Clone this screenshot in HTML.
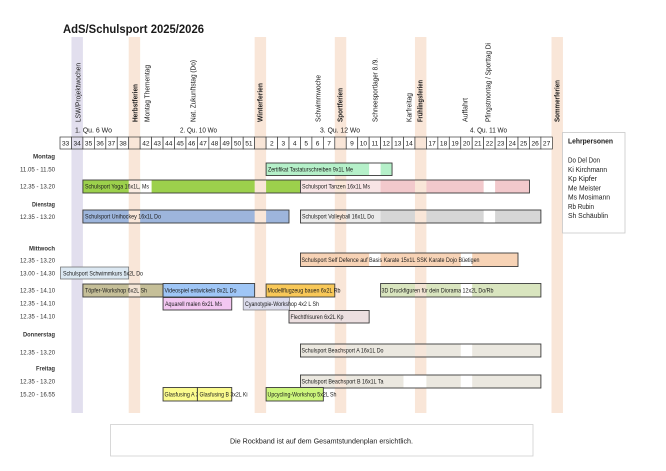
<!DOCTYPE html>
<html><head><meta charset="utf-8"><style>
html,body{margin:0;padding:0;background:#fff;}
svg{display:block;}
text{font-family:"Liberation Sans",Arial,sans-serif;fill:#1a1a1a;}
.v{font-size:7px;}
.b{font-weight:bold;}
.w{font-size:6.6px;text-anchor:middle;}
.t{font-size:6px;}
.l{font-size:6.5px;text-anchor:end;fill:#333;}
.bar{stroke:#3a3a3a;stroke-width:0.9;}
.c{stroke:#3a3a3a;stroke-width:0.7;}
</style></head><body>
<svg width="666" height="471" viewBox="0 0 666 471" xmlns="http://www.w3.org/2000/svg">
<rect width="666" height="471" fill="#fff"/>

<!-- vertical bands -->
<rect x="71.45" y="37" width="11.45" height="376" fill="#e2dfee"/>
<rect x="128.7" y="37" width="11.45" height="376" fill="#f9e6d8"/>
<rect x="254.65" y="37" width="11.45" height="376" fill="#f9e6d8"/>
<rect x="334.8" y="37" width="11.45" height="376" fill="#f9e6d8"/>
<rect x="414.95" y="37" width="11.45" height="376" fill="#f9e6d8"/>
<rect x="551.5" y="37" width="11.45" height="376" fill="#f9e6d8"/>

<!-- title -->
<text x="63" y="33" font-size="12" font-weight="bold" textLength="141" lengthAdjust="spacingAndGlyphs">AdS/Schulsport 2025/2026</text>

<!-- vertical labels -->
<text class="v" transform="translate(80.5,122) rotate(-90)" textLength="59" lengthAdjust="spacingAndGlyphs">LSW/Projektwochen</text>
<text class="v b" transform="translate(137.5,122) rotate(-90)" textLength="38" lengthAdjust="spacingAndGlyphs">Herbstferien</text>
<text class="v" transform="translate(149.5,122) rotate(-90)" textLength="57" lengthAdjust="spacingAndGlyphs">Montag Thementag</text>
<text class="v" transform="translate(195.5,122) rotate(-90)" textLength="62" lengthAdjust="spacingAndGlyphs">Nat. Zukunftstag (Do)</text>
<text class="v b" transform="translate(262.5,122) rotate(-90)" textLength="39" lengthAdjust="spacingAndGlyphs">Winterferien</text>
<text class="v" transform="translate(320.5,122) rotate(-90)" textLength="47" lengthAdjust="spacingAndGlyphs">Schwimmwoche</text>
<text class="v b" transform="translate(342.5,122) rotate(-90)" textLength="34" lengthAdjust="spacingAndGlyphs">Sportferien</text>
<text class="v" transform="translate(377.5,122) rotate(-90)" textLength="64" lengthAdjust="spacingAndGlyphs">Schneesportlager 8./9.</text>
<text class="v" transform="translate(411.5,122) rotate(-90)" textLength="29" lengthAdjust="spacingAndGlyphs">Karfreitag</text>
<text class="v b" transform="translate(422.5,122) rotate(-90)" textLength="42" lengthAdjust="spacingAndGlyphs">Frühlingsferien</text>
<text class="v" transform="translate(467.5,122) rotate(-90)" textLength="24" lengthAdjust="spacingAndGlyphs">Auffahrt</text>
<text class="v" transform="translate(490.5,122) rotate(-90)" textLength="79" lengthAdjust="spacingAndGlyphs">Pfingstmontag / Sporttag Di</text>
<text class="v b" transform="translate(559.5,122) rotate(-90)" textLength="42" lengthAdjust="spacingAndGlyphs">Sommerferien</text>

<!-- quarter labels -->
<text class="v" x="75" y="132.5" textLength="37" lengthAdjust="spacingAndGlyphs">1. Qu. 6 Wo</text>
<text class="v" x="180" y="132.5" textLength="37" lengthAdjust="spacingAndGlyphs">2. Qu. 10 Wo</text>
<text class="v" x="320" y="132.5" textLength="40" lengthAdjust="spacingAndGlyphs">3. Qu. 12 Wo</text>
<text class="v" x="470" y="132.5" textLength="37" lengthAdjust="spacingAndGlyphs">4. Qu. 11 Wo</text>

<!-- week row -->
<g>
<rect class="c" x="60" y="137" width="11.45" height="12" fill="#fff"/><text class="w" x="65.7" y="145.5">33</text>
<rect class="c" x="71.45" y="137" width="11.45" height="12" fill="#e2dfee"/><text class="w" x="77.2" y="145.5">34</text>
<rect class="c" x="82.9" y="137" width="11.45" height="12" fill="#fff"/><text class="w" x="88.6" y="145.5">35</text>
<rect class="c" x="94.35" y="137" width="11.45" height="12" fill="#fff"/><text class="w" x="100.1" y="145.5">36</text>
<rect class="c" x="105.8" y="137" width="11.45" height="12" fill="#fff"/><text class="w" x="111.5" y="145.5">37</text>
<rect class="c" x="117.25" y="137" width="11.45" height="12" fill="#fff"/><text class="w" x="123" y="145.5">38</text>
<rect class="c" x="128.7" y="137" width="11.45" height="12" fill="#f9e6d8"/>
<rect class="c" x="140.15" y="137" width="11.45" height="12" fill="#fff"/><text class="w" x="145.9" y="145.5">42</text>
<rect class="c" x="151.6" y="137" width="11.45" height="12" fill="#fff"/><text class="w" x="157.3" y="145.5">43</text>
<rect class="c" x="163.05" y="137" width="11.45" height="12" fill="#fff"/><text class="w" x="168.8" y="145.5">44</text>
<rect class="c" x="174.5" y="137" width="11.45" height="12" fill="#fff"/><text class="w" x="180.2" y="145.5">45</text>
<rect class="c" x="185.95" y="137" width="11.45" height="12" fill="#fff"/><text class="w" x="191.7" y="145.5">46</text>
<rect class="c" x="197.4" y="137" width="11.45" height="12" fill="#fff"/><text class="w" x="203.1" y="145.5">47</text>
<rect class="c" x="208.85" y="137" width="11.45" height="12" fill="#fff"/><text class="w" x="214.6" y="145.5">48</text>
<rect class="c" x="220.3" y="137" width="11.45" height="12" fill="#fff"/><text class="w" x="226" y="145.5">49</text>
<rect class="c" x="231.75" y="137" width="11.45" height="12" fill="#fff"/><text class="w" x="237.5" y="145.5">50</text>
<rect class="c" x="243.2" y="137" width="11.45" height="12" fill="#fff"/><text class="w" x="248.9" y="145.5">51</text>
<rect class="c" x="254.65" y="137" width="11.45" height="12" fill="#f9e6d8"/>
<rect class="c" x="266.1" y="137" width="11.45" height="12" fill="#fff"/><text class="w" x="271.8" y="145.5">2</text>
<rect class="c" x="277.55" y="137" width="11.45" height="12" fill="#fff"/><text class="w" x="283.3" y="145.5">3</text>
<rect class="c" x="289" y="137" width="11.45" height="12" fill="#fff"/><text class="w" x="294.7" y="145.5">4</text>
<rect class="c" x="300.45" y="137" width="11.45" height="12" fill="#fff"/><text class="w" x="306.2" y="145.5">5</text>
<rect class="c" x="311.9" y="137" width="11.45" height="12" fill="#fff"/><text class="w" x="317.6" y="145.5">6</text>
<rect class="c" x="323.35" y="137" width="11.45" height="12" fill="#fff"/><text class="w" x="329.1" y="145.5">7</text>
<rect class="c" x="334.8" y="137" width="11.45" height="12" fill="#f9e6d8"/>
<rect class="c" x="346.25" y="137" width="11.45" height="12" fill="#fff"/><text class="w" x="352" y="145.5">9</text>
<rect class="c" x="357.7" y="137" width="11.45" height="12" fill="#fff"/><text class="w" x="363.4" y="145.5">10</text>
<rect class="c" x="369.15" y="137" width="11.45" height="12" fill="#fff"/><text class="w" x="374.9" y="145.5">11</text>
<rect class="c" x="380.6" y="137" width="11.45" height="12" fill="#fff"/><text class="w" x="386.3" y="145.5">12</text>
<rect class="c" x="392.05" y="137" width="11.45" height="12" fill="#fff"/><text class="w" x="397.8" y="145.5">13</text>
<rect class="c" x="403.5" y="137" width="11.45" height="12" fill="#fff"/><text class="w" x="409.2" y="145.5">14</text>
<rect class="c" x="414.95" y="137" width="11.45" height="12" fill="#f9e6d8"/>
<rect class="c" x="426.4" y="137" width="11.45" height="12" fill="#fff"/><text class="w" x="432.1" y="145.5">17</text>
<rect class="c" x="437.85" y="137" width="11.45" height="12" fill="#fff"/><text class="w" x="443.6" y="145.5">18</text>
<rect class="c" x="449.3" y="137" width="11.45" height="12" fill="#fff"/><text class="w" x="455" y="145.5">19</text>
<rect class="c" x="460.75" y="137" width="11.45" height="12" fill="#fff"/><text class="w" x="466.5" y="145.5">20</text>
<rect class="c" x="472.2" y="137" width="11.45" height="12" fill="#fff"/><text class="w" x="477.9" y="145.5">21</text>
<rect class="c" x="483.65" y="137" width="11.45" height="12" fill="#fff"/><text class="w" x="489.4" y="145.5">22</text>
<rect class="c" x="495.1" y="137" width="11.45" height="12" fill="#fff"/><text class="w" x="500.8" y="145.5">23</text>
<rect class="c" x="506.55" y="137" width="11.45" height="12" fill="#fff"/><text class="w" x="512.3" y="145.5">24</text>
<rect class="c" x="518" y="137" width="11.45" height="12" fill="#fff"/><text class="w" x="523.7" y="145.5">25</text>
<rect class="c" x="529.45" y="137" width="11.45" height="12" fill="#fff"/><text class="w" x="535.2" y="145.5">26</text>
<rect class="c" x="540.9" y="137" width="11.45" height="12" fill="#fff"/><text class="w" x="546.6" y="145.5">27</text>
</g>

<!-- day / time labels -->
<text class="l b" x="55" y="158.5" textLength="22" lengthAdjust="spacingAndGlyphs">Montag</text>
<text class="l" x="55" y="171.5" textLength="35" lengthAdjust="spacingAndGlyphs">11.05 - 11.50</text>
<text class="l" x="55" y="188.5" textLength="35" lengthAdjust="spacingAndGlyphs">12.35 - 13.20</text>
<text class="l b" x="55" y="206.5" textLength="23" lengthAdjust="spacingAndGlyphs">Dienstag</text>
<text class="l" x="55" y="219" textLength="35" lengthAdjust="spacingAndGlyphs">12.35 - 13.20</text>
<text class="l b" x="55" y="250.5" textLength="26" lengthAdjust="spacingAndGlyphs">Mittwoch</text>
<text class="l" x="55" y="262.5" textLength="35" lengthAdjust="spacingAndGlyphs">12.35 - 13.20</text>
<text class="l" x="55" y="275.5" textLength="35" lengthAdjust="spacingAndGlyphs">13.00 - 14.30</text>
<text class="l" x="55" y="292.5" textLength="35" lengthAdjust="spacingAndGlyphs">12.35 - 14.10</text>
<text class="l" x="55" y="305.5" textLength="35" lengthAdjust="spacingAndGlyphs">12.35 - 14.10</text>
<text class="l" x="55" y="318.5" textLength="35" lengthAdjust="spacingAndGlyphs">12.35 - 14.10</text>
<text class="l b" x="55" y="336.5" textLength="32" lengthAdjust="spacingAndGlyphs">Donnerstag</text>
<text class="l" x="55" y="354.5" textLength="35" lengthAdjust="spacingAndGlyphs">12.35 - 13.20</text>
<text class="l b" x="55" y="370.5" textLength="19" lengthAdjust="spacingAndGlyphs">Freitag</text>
<text class="l" x="55" y="383.5" textLength="35" lengthAdjust="spacingAndGlyphs">12.35 - 13.20</text>
<text class="l" x="55" y="396.5" textLength="35" lengthAdjust="spacingAndGlyphs">15.20 - 16.55</text>

<!-- Montag 11.05 Zertifikat -->
<rect x="266.1" y="163" width="125.95" height="12.5" fill="#b5f0c9"/>
<rect x="369.15" y="163" width="11.45" height="12.5" fill="#fff"/>
<rect class="bar" x="266.1" y="163" width="125.95" height="12.5" fill="none"/>
<text class="t" x="268" y="171.5" textLength="85" lengthAdjust="spacingAndGlyphs">Zertifikat Tastaturschreiben 9x1L Me</text>

<!-- Yoga -->
<rect x="82.9" y="180" width="217.55" height="13" fill="#9cd04c"/>
<rect x="128.7" y="180" width="11.45" height="13" fill="#fbece2"/>
<rect x="140.15" y="180" width="11.45" height="13" fill="#fff"/>
<rect x="254.65" y="180" width="11.45" height="13" fill="#f9e6d8"/>
<rect class="bar" x="82.9" y="180" width="217.55" height="13" fill="none"/>
<text class="t" x="85" y="188.7" textLength="64" lengthAdjust="spacingAndGlyphs">Schulsport Yoga 16x1L, Ms</text>

<!-- Tanzen -->
<rect x="300.45" y="180" width="229" height="13" fill="#f2c9cc"/>
<rect x="300.45" y="180" width="80.15" height="13" fill="#f8e4e5"/>
<rect x="334.8" y="180" width="11.45" height="13" fill="#f9e6d8"/>
<rect x="414.95" y="180" width="11.45" height="13" fill="#f9e6d8"/>
<rect x="483.65" y="180" width="11.45" height="13" fill="#fff"/>
<rect class="bar" x="300.45" y="180" width="229" height="13" fill="none"/>
<text class="t" x="302" y="188.7" textLength="68" lengthAdjust="spacingAndGlyphs">Schulsport Tanzen 16x1L Ms</text>

<!-- Unihockey -->
<rect x="82.9" y="210" width="206.1" height="13" fill="#9db5dc"/>
<rect x="128.7" y="210" width="11.45" height="13" fill="#f9e6d8"/>
<rect x="254.65" y="210" width="11.45" height="13" fill="#f9e6d8"/>
<rect class="bar" x="82.9" y="210" width="206.1" height="13" fill="none"/>
<text class="t" x="85" y="218.7" textLength="76" lengthAdjust="spacingAndGlyphs">Schulsport Unihockey 16x1L Do</text>

<!-- Volleyball -->
<rect x="300.45" y="210" width="240.45" height="13" fill="#d6d6d6"/>
<rect x="300.45" y="210" width="80.15" height="13" fill="#ebebeb"/>
<rect x="334.8" y="210" width="11.45" height="13" fill="#f9e6d8"/>
<rect x="414.95" y="210" width="11.45" height="13" fill="#f9e6d8"/>
<rect x="483.65" y="210" width="11.45" height="13" fill="#fff"/>
<rect class="bar" x="300.45" y="210" width="240.45" height="13" fill="none"/>
<text class="t" x="302" y="218.7" textLength="72" lengthAdjust="spacingAndGlyphs">Schulsport Volleyball 16x1L Do</text>

<!-- Self Defence -->
<rect x="300.45" y="253" width="217.55" height="13.5" fill="#f7d3b6"/>
<rect x="369.15" y="253" width="11.45" height="13.5" fill="#fff"/>
<rect x="460.75" y="253" width="11.45" height="13.5" fill="#fff"/>
<rect class="bar" x="300.45" y="253" width="217.55" height="13.5" fill="none"/>
<text class="t" x="301.5" y="262" textLength="178" lengthAdjust="spacingAndGlyphs">Schulsport Self Defence auf Basis Karate 15x1L SSK Karate Dojo Büetigen</text>

<!-- Schwimmkurs -->
<rect x="60.5" y="267" width="68.2" height="12" fill="#dce8f2"/>
<rect class="bar" x="60.5" y="267" width="68.2" height="12" fill="none" style="stroke:#666;stroke-width:0.7"/>
<text class="t" x="63" y="275.5" textLength="80" lengthAdjust="spacingAndGlyphs">Schulsport Schwimmkurs 5x2L Do</text>

<!-- Töpfer -->
<rect x="82.9" y="284" width="80.15" height="13" fill="#c5bf98"/>
<rect x="128.7" y="284" width="11.45" height="13" fill="#f3e4d4"/>
<rect class="bar" x="82.9" y="284" width="80.15" height="13" fill="none"/>
<text class="t" x="85" y="292.7" textLength="62" lengthAdjust="spacingAndGlyphs">Töpfer-Workshop 6x2L Sh</text>

<!-- Videospiel -->
<rect class="bar" x="163.05" y="283.5" width="91.6" height="13.5" fill="#9fc6f6"/>
<text class="t" x="164.5" y="292.5" textLength="72" lengthAdjust="spacingAndGlyphs">Videospiel entwickeln 8x2L Do</text>

<!-- Modellflugzeug -->
<rect class="bar" x="266.1" y="284" width="68.7" height="13" fill="#f8c858"/>
<text class="t" x="267.5" y="292.7" textLength="73" lengthAdjust="spacingAndGlyphs">Modellflugzeug bauen 6x2L Rb</text>

<!-- 3D Druck -->
<rect x="380.6" y="283.5" width="160.3" height="13.5" fill="#d9e5bf"/>
<rect x="414.95" y="283.5" width="11.45" height="13.5" fill="#f1e3d2"/>
<rect x="460.75" y="283.5" width="11.45" height="13.5" fill="#fff"/>
<rect class="bar" x="380.6" y="283.5" width="160.3" height="13.5" fill="none"/>
<text class="t" x="381.5" y="292.5" textLength="112" lengthAdjust="spacingAndGlyphs">3D Druckfiguren für dein Diorama 12x2L Do/Rb</text>

<!-- Aquarell -->
<rect class="bar" x="163.05" y="297.5" width="68.7" height="12.5" fill="#f3c7f1"/>
<text class="t" x="165" y="305.8" textLength="57" lengthAdjust="spacingAndGlyphs">Aquarell malen 6x2L Ms</text>

<!-- Cyanotypie -->
<rect x="243.2" y="297.5" width="46.3" height="12.5" fill="#dcdcec"/>
<rect class="bar" x="243.2" y="297.5" width="46.3" height="12.5" fill="none" style="stroke:#777;stroke-width:0.7"/>
<text class="t" x="245" y="305.8" textLength="74" lengthAdjust="spacingAndGlyphs">Cyanotypie-Workshop 4x2 L Sh</text>

<!-- Flechtfrisuren -->
<rect x="289" y="310.5" width="80.15" height="12.5" fill="#ecdfe0"/>
<rect class="bar" x="289" y="310.5" width="80.15" height="12.5" fill="none"/>
<text class="t" x="290.5" y="318.8" textLength="53" lengthAdjust="spacingAndGlyphs">Flechtfrisuren 6x2L Kp</text>

<!-- Beachsport A -->
<rect x="300.45" y="344" width="240.45" height="13" fill="#ebe8e0"/>
<rect x="334.8" y="344" width="11.45" height="13" fill="#f6e6da"/>
<rect x="414.95" y="344" width="11.45" height="13" fill="#f6e6da"/>
<rect x="460.75" y="344" width="11.45" height="13" fill="#fff"/>
<rect class="bar" x="300.45" y="344" width="240.45" height="13" fill="none"/>
<text class="t" x="301.5" y="352.7" textLength="82" lengthAdjust="spacingAndGlyphs">Schulsport Beachsport A 16x1L Do</text>

<!-- Beachsport B -->
<rect x="300.45" y="375" width="240.45" height="13" fill="#ebe8e0"/>
<rect x="334.8" y="375" width="11.45" height="13" fill="#f6e6da"/>
<rect x="403.5" y="375" width="22.9" height="13" fill="#fff"/>
<rect x="460.75" y="375" width="11.45" height="13" fill="#fff"/>
<rect class="bar" x="300.45" y="375" width="240.45" height="13" fill="none"/>
<text class="t" x="301.5" y="383.7" textLength="82" lengthAdjust="spacingAndGlyphs">Schulsport Beachsport B 16x1L Ta</text>

<!-- Glasfusing -->
<rect class="bar" x="163.05" y="387.5" width="34.35" height="13.5" fill="#fbfb8e"/>
<text class="t" x="164.5" y="396.5" textLength="49" lengthAdjust="spacingAndGlyphs">Glasfusing A 3x2L Ki</text>
<rect class="bar" x="197.4" y="387.5" width="34.35" height="13.5" fill="#fbfb8e"/>
<text class="t" x="199.5" y="396.5" textLength="48" lengthAdjust="spacingAndGlyphs">Glasfusing B 3x2L Ki</text>

<!-- Upcycling -->
<rect class="bar" x="266.1" y="387.5" width="57.25" height="13.5" fill="#ccf57c"/>
<text class="t" x="267.5" y="396.5" textLength="69" lengthAdjust="spacingAndGlyphs">Upcycling-Workshop 5x2L Sh</text>

<!-- legend -->
<rect x="562.5" y="132.5" width="62.5" height="100.5" fill="#fff" stroke="#c8c8c8" stroke-width="0.8"/>
<text x="568" y="143.5" font-size="7.5" font-weight="bold" textLength="45" lengthAdjust="spacingAndGlyphs">Lehrpersonen</text>
<text x="568" y="162.5" font-size="7.5" textLength="32" lengthAdjust="spacingAndGlyphs">Do Del Don</text>
<text x="568" y="171.8" font-size="7.5" textLength="39" lengthAdjust="spacingAndGlyphs">Ki Kirchmann</text>
<text x="568" y="181" font-size="7.5" textLength="29" lengthAdjust="spacingAndGlyphs">Kp Kipfer</text>
<text x="568" y="190.3" font-size="7.5" textLength="33" lengthAdjust="spacingAndGlyphs">Me Meister</text>
<text x="568" y="199.5" font-size="7.5" textLength="42" lengthAdjust="spacingAndGlyphs">Ms Mosimann</text>
<text x="568" y="208.8" font-size="7.5" textLength="26" lengthAdjust="spacingAndGlyphs">Rb Rubin</text>
<text x="568" y="218" font-size="7.5" textLength="40" lengthAdjust="spacingAndGlyphs">Sh Schäublin</text>

<!-- bottom note -->
<rect x="110.5" y="424.5" width="422.5" height="31.5" fill="#fff" stroke="#cfcfcf" stroke-width="0.8"/>
<text x="230" y="443.5" font-size="7.5" textLength="183" lengthAdjust="spacingAndGlyphs">Die Rockband ist auf dem Gesamtstundenplan ersichtlich.</text>
</svg>
</body></html>
